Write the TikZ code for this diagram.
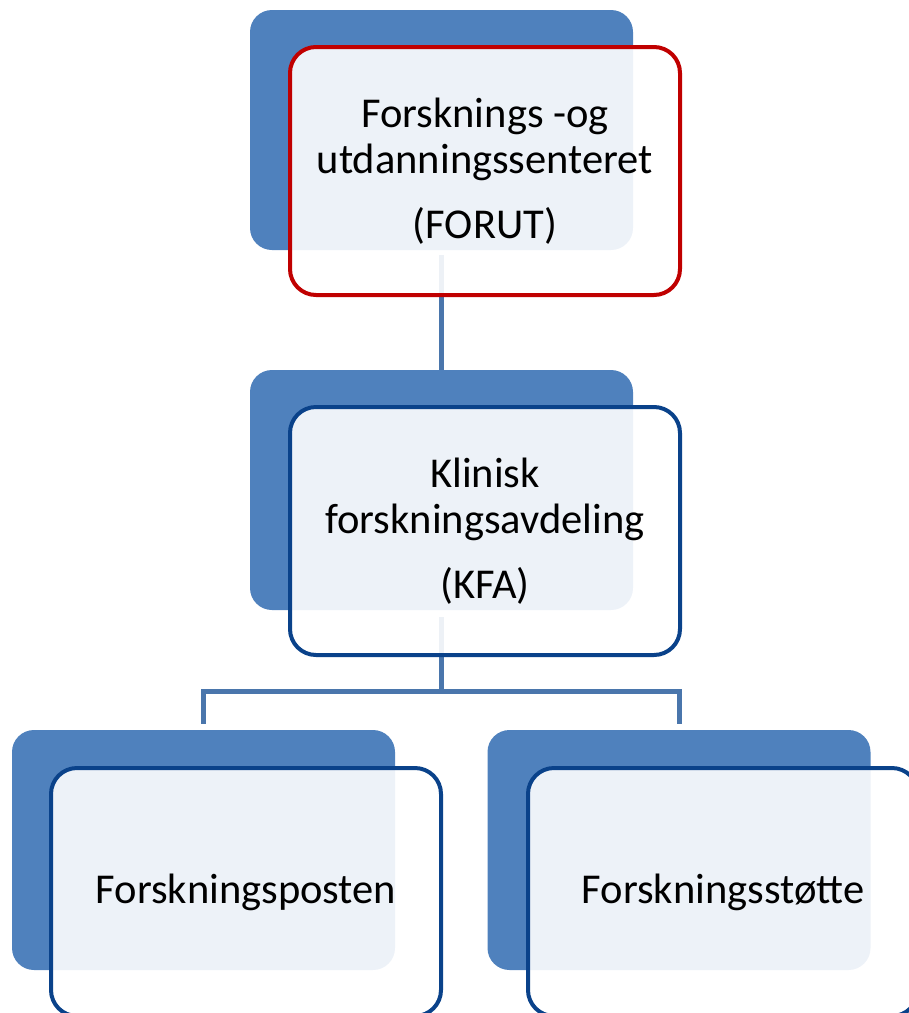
\documentclass[tikz,border=0pt]{standalone}
\usepackage{fontspec}
\setmainfont{Carlito}
\definecolor{backblue}{HTML}{4F81BD}
\definecolor{redline}{HTML}{C00000}
\definecolor{blueline}{HTML}{0A428A}
\definecolor{connblue}{HTML}{4A76AC}
\begin{document}
\begin{tikzpicture}[x=1pt,y=-1pt,
  backbox/.style={fill=backblue, rounded corners=22pt, inner sep=0pt, minimum width=383pt, minimum height=240pt},
  frontbox/.style={draw=blueline, line width=4pt, fill=white, fill opacity=0.9, rounded corners=26pt, inner sep=0pt, minimum width=390pt, minimum height=248pt},
  conn/.style={draw=connblue, line width=5pt},
  lbl/.style={font=\fontsize{42.5}{48}\selectfont, anchor=base, inner sep=0pt, text=black}]
\useasboundingbox (0,0) rectangle (909,1013);
\begin{scope}
\clip (0,0) rectangle (909,1013);
% back boxes
\node[backbox] (b1) at (441.5,130) {};
\node[backbox] (b2) at (441.5,490) {};
\node[backbox] (b3) at (203.5,850) {};
\node[backbox] (b4) at (679,850) {};
% connectors
\coordinate (j) at (441.5,691);
\draw[conn] ([yshift=-5pt]b1.south) -- (b2.north);
\draw[conn] ([yshift=-7pt]b2.south) -- (j);
\draw[conn] ([yshift=6pt]b3.north) |- (j) -| ([yshift=6pt]b4.north);
% front boxes
\node[frontbox, draw=redline] (f1) at (485,171) {};
\node[frontbox] (f2) at (485,531) {};
\node[frontbox] (f3) at (246,892) {};
\node[frontbox] (f4) at (723,892) {};
\end{scope}
% texts
\node[lbl] (t1a) at (485,127) {Forsknings -og};
\node[lbl] (t1b) at (485,173) {utdanningssenteret};
\node[lbl] (t1c) at (485,238) {(FORUT)};
\node[lbl] (t2a) at (485,487) {Klinisk};
\node[lbl] (t2b) at (485,533) {forskningsavdeling};
\node[lbl] (t2c) at (485,598) {(KFA)};
\node[lbl] (t3) at (246,903) {Forskningsposten};
\node[lbl] (t4) at (723,903) {Forskningsstøtte};
\end{tikzpicture}
\end{document}
